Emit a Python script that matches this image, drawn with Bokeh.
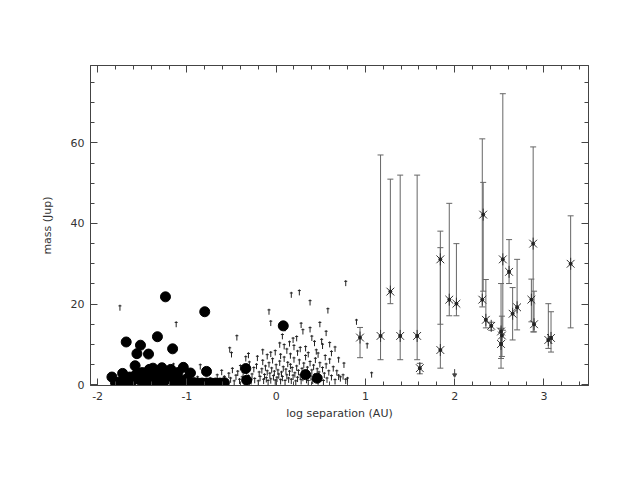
import math
from bokeh.plotting import figure
from bokeh.models import (Range1d, LinearAxis, SingleIntervalTicker, Whisker, TeeHead,
                          ColumnDataSource)
from bokeh.embed import file_html
from bokeh.resources import INLINE

# ---- data: filled circles ----
circ_x = [-1.24, -1.68, -1.52, -1.33, -1.56, -1.43, -1.16, -0.80, 0.08, -0.34, -0.33, 0.33, 0.46,
          -0.78, -0.96, -1.04, -1.58, -1.38, -1.29, -1.10,
          -1.84, -1.80, -1.76, -1.64, -1.62, -1.57, -1.53, -1.50, -1.48, -1.45, -1.42, -1.40,
          -1.36, -1.34, -1.31, -1.28, -1.26, -1.22, -1.20, -1.18, -1.15, -1.12, -1.08, -1.05,
          -1.00, -0.97, -0.92, -0.88, -0.83, -0.78, -0.73, -0.68, -0.63, -0.58, -1.70, -1.72]
circ_y = [21.8, 10.6, 9.8, 11.9, 7.7, 7.6, 8.9, 18.1, 14.6, 4.0, 1.1, 2.5, 1.6,
          3.3, 2.9, 4.3, 4.7, 4.1, 3.6, 3.0,
          1.9, 0.5, 0.6, 1.9, 0.7, 2.5, 1.2, 3.0, 0.6, 2.0, 3.8, 1.0,
          2.6, 0.5, 1.8, 4.2, 0.8, 2.8, 1.5, 3.8, 0.6, 2.0, 1.2, 0.5,
          1.5, 0.4, 0.5, 0.4, 0.4, 0.4, 0.4, 0.4, 0.4, 0.5, 0.5, 2.8]

# ---- data: small dagger symbols ----
dag_x = [-0.93, -0.88, -0.85, -0.80, -0.74, -0.70, -0.66, -0.63, -0.61, -0.58,
         -0.55, -0.53, -0.51, -0.49, -0.47, -0.45, -0.43, -0.41, -0.40, -0.38,
         -0.37, -0.35, -0.33, -0.31, -0.30, -0.28, -0.27, -0.25, -0.24, -0.22,
         -0.20, -0.19, -0.18, -0.16, -0.15, -0.14, -0.13, -0.12, -0.11, -0.10,
         -0.09, -0.08, -0.07, -0.06, -0.05, -0.04, -0.03, -0.02, -0.01, 0.00,
         0.01, 0.02, 0.03, 0.04, 0.05,
         0.06, 0.07, 0.08, 0.09, 0.10, 0.11, 0.12, 0.13, 0.14, 0.15,
         0.16, 0.17, 0.18, 0.19, 0.20, 0.21, 0.22, 0.23, 0.24, 0.25,
         0.26, 0.27, 0.28, 0.29, 0.30, 0.31, 0.32, 0.33, 0.34, 0.35,
         0.36, 0.37, 0.38, 0.39, 0.40,
         0.41, 0.42, 0.43, 0.44, 0.45, 0.46, 0.47, 0.48, 0.49, 0.50,
         0.52, 0.53, 0.54, 0.56, 0.57, 0.59, 0.60, 0.62, 0.64, 0.66,
         0.68, 0.70, 0.72, 0.75, 0.76, 0.78, 0.80,
         -1.75, -1.12, -1.15, -0.44, -0.52, -0.50, -0.31, -0.34, -0.21, -0.10,
         -0.06, -0.08, -0.06, 0.17, 0.26, 0.38, 0.78, 0.58, 0.28, 0.49,
         0.90, 1.02, 0.38, 0.30, 0.56, 0.19, 0.23, 0.43, 0.51, 0.62,
         0.04, 0.09, 0.12, -0.01, 0.33, 0.45, 0.27, 0.16, 0.36, 0.55,
         0.70, 1.07, 0.15, 0.07, 0.20, 0.40, 0.52, 0.60, 0.24, 0.47,
         0.05, -0.15, 0.10, 0.66]
dag_y = [0.8, 1.5, 4.5, 0.6, 1.2, 0.5, 2.0, 0.9, 3.1, 1.6,
         0.7, 2.4, 1.2, 3.6, 0.5, 1.9, 2.9, 0.9, 4.3, 1.5,
         2.6, 0.6, 3.3, 1.8, 5.2, 0.8, 2.2, 3.8, 1.1, 4.6,
         0.5, 2.7, 1.6, 3.5, 5.6, 0.9, 2.1, 4.2, 1.3, 3.0,
         0.6, 5.0, 2.4, 1.0, 3.7, 6.0, 1.8, 2.9, 0.7, 4.5,
         1.4, 3.2, 2.2, 5.4, 0.8,
         2.7, 1.6, 4.0, 6.4, 0.6, 3.4, 2.0, 5.1, 1.2, 2.9,
         4.6, 0.9, 3.8, 1.9, 6.2, 2.5, 0.5, 4.2, 1.4, 3.1,
         5.7, 2.0, 0.8, 3.6, 1.6, 4.9, 2.6, 6.8, 1.1, 3.9,
         0.6, 2.3, 5.3, 1.7, 3.2,
         0.9, 4.4, 2.1, 6.1, 1.3, 3.5, 0.7, 2.7, 5.0, 1.5,
         3.8, 0.6, 2.4, 4.7, 1.2, 3.0, 5.9, 1.8, 4.0, 0.8,
         3.0, 1.9, 1.5, 2.0, 4.9, 0.9, 1.2,
         19.1, 15.0, 4.7, 11.7, 8.7, 7.5, 7.3, 6.5, 6.6, 7.0,
         7.6, 18.1, 15.3, 22.3, 22.9, 20.4, 25.2, 18.4, 14.8, 15.0,
         15.6, 9.7, 13.7, 13.2, 12.8, 11.1, 11.5, 10.3, 10.8, 7.8,
         9.9, 9.5, 8.4, 8.0, 9.0, 8.2, 8.8, 7.2, 7.5, 6.8,
         6.2, 2.5, 10.2, 12.0, 9.3, 11.6, 9.6, 10.0, 7.9, 7.4,
         7.1, 8.2, 14.0, 8.9]

# ---- data: asterisks with error bars ----
ast_x = [0.94, 1.17, 1.28, 1.39, 1.58, 1.61, 1.84, 1.84, 1.94, 2.02,
         2.32, 2.31, 2.35, 2.41, 2.54, 2.52, 2.53, 2.52, 2.61, 2.65,
         2.70, 2.86, 2.88, 2.89, 3.05, 3.08, 3.30]
ast_y = [11.7, 12.1, 23.1, 12.1, 12.1, 4.1, 31.1, 8.6, 21.1, 20.1,
         42.2, 21.1, 16.1, 14.6, 31.1, 13.2, 12.2, 10.1, 28.0, 17.6,
         19.2, 21.1, 35.0, 15.0, 11.1, 11.6, 30.0]
ast_lo = [6.7, 6.2, 20.1, 6.2, 6.2, 2.7, 15.0, 4.1, 17.1, 17.1,
          23.2, 19.3, 14.1, 13.5, 13.5, 4.1, 7.0, 6.5, 25.1, 11.1,
          13.6, 15.6, 13.1, 13.1, 9.0, 8.1, 14.1]
ast_hi = [14.2, 57.0, 51.0, 52.0, 52.0, 5.3, 38.1, 34.0, 45.0, 35.0,
          50.2, 61.0, 26.1, 15.5, 72.2, 25.1, 17.0, 14.0, 36.0, 24.1,
          31.1, 26.2, 59.0, 23.2, 20.1, 18.1, 41.9]

# ---- data: upper limit arrow ----
lim_x = [2.00]
lim_y = [3.0]

x_ticks_labels = {-2: "-2", -1: "-1", 0: "0", 1: "1", 2: "2", 3: "3"}

FONT = "DejaVu Sans"
TXT = "#333333"
LINE = "#444444"

p = figure(frame_width=498, frame_height=320, output_backend="svg", toolbar_location=None,
           x_range=Range1d(-2.08, 3.5), y_range=Range1d(-0.2, 79.2),
           x_axis_label="log separation (AU)", y_axis_label="mass (Jup)")
p.min_border_left = 90
p.min_border_right = 30
p.min_border_top = 65
p.min_border_bottom = 85
p.grid.visible = False
p.outline_line_color = LINE
p.background_fill_color = "white"
p.border_fill_color = "white"

xt = SingleIntervalTicker(interval=1, num_minor_ticks=5)
yt = SingleIntervalTicker(interval=20, num_minor_ticks=4)


def style_axis(ax, labels=True):
    ax.axis_line_color = LINE
    ax.major_tick_line_color = LINE
    ax.minor_tick_line_color = LINE
    ax.major_tick_in = 7
    ax.major_tick_out = 0
    ax.minor_tick_in = 4
    ax.minor_tick_out = 0
    ax.major_label_text_font = FONT
    ax.major_label_text_font_size = "11px"
    ax.major_label_text_color = TXT
    ax.axis_label_text_font = FONT
    ax.axis_label_text_font_size = "11px"
    ax.axis_label_text_font_style = "normal"
    ax.axis_label_text_color = TXT
    if not labels:
        ax.major_label_text_alpha = 0


p.xaxis.ticker = xt
p.yaxis.ticker = yt
p.xaxis.major_label_overrides = x_ticks_labels
for ax in p.xaxis + p.yaxis:
    style_axis(ax)
p.xaxis.major_label_standoff = 6
p.xaxis.axis_label_standoff = 4
p.yaxis.major_label_standoff = 6
p.yaxis.axis_label_standoff = 14
p.yaxis.major_label_orientation = "horizontal"

top = LinearAxis(ticker=SingleIntervalTicker(interval=1, num_minor_ticks=5))
right = LinearAxis(ticker=SingleIntervalTicker(interval=20, num_minor_ticks=4))
style_axis(top, labels=False)
style_axis(right, labels=False)
p.add_layout(top, "above")
p.add_layout(right, "right")

# error bars
esrc = ColumnDataSource(dict(x=ast_x, lo=ast_lo, hi=ast_hi))
w = Whisker(base="x", lower="lo", upper="hi", source=esrc, dimension="height",
            line_color="#666666", line_width=1,
            upper_head=TeeHead(size=6, line_color="#666666", line_width=1),
            lower_head=TeeHead(size=6, line_color="#666666", line_width=1))
p.add_layout(w)

# asterisks (X + vertical stroke + dot)
p.scatter(ast_x, ast_y, marker="x", size=11, line_color="#333333", line_width=1)
p.scatter(ast_x, ast_y, marker="dash", angle=math.pi / 2, size=12, line_color="#333333", line_width=1)
p.scatter(ast_x, ast_y, marker="circle", size=3, fill_color="#222222", line_color="#222222")

# daggers: vertical stem + short crossbar slightly above the centre
bar_y = [v + 0.45 for v in dag_y]
p.scatter(dag_x, dag_y, marker="dash", angle=math.pi / 2, size=6, line_color="#222222", line_width=1)
p.scatter(dag_x, bar_y, marker="dash", size=3, line_color="#222222", line_width=1)

# filled circles
p.scatter(circ_x, circ_y, marker="circle", size=10, fill_color="black", line_color="black")

# upper limit arrow
p.scatter(lim_x, lim_y, marker="dash", angle=math.pi / 2, size=7, line_color="#444444", line_width=1)
p.scatter(lim_x, [v - 0.6 for v in lim_y], marker="inverted_triangle", size=4,
          fill_color="#444444", line_color="#444444")

open("out.html", "w").write(file_html(p, INLINE))
